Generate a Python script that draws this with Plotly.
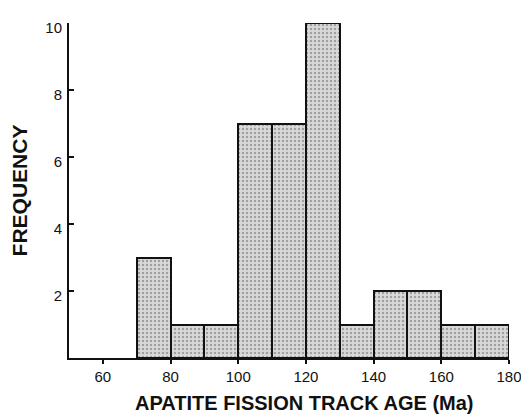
import plotly.graph_objects as go

bin_left = [70, 80, 90, 100, 110, 120, 130, 140, 150, 160, 170]
bin_width = 10
frequency = [3, 1, 1, 7, 7, 10, 1, 2, 2, 1, 1]
x_ticks = [60, 80, 100, 120, 140, 160, 180]
y_ticks = [2, 4, 6, 8, 10]
x_title = "APATITE FISSION TRACK AGE (Ma)"
y_title = "FREQUENCY"

fig = go.Figure()
fig.add_trace(go.Bar(
    x=[b + bin_width / 2 for b in bin_left],
    y=frequency,
    width=bin_width,
    marker=dict(
        color="#dadada",
        line=dict(color="#111111", width=2),
        pattern=dict(shape=".", fgcolor="#666666", size=4, solidity=0.3),
    ),
    showlegend=False,
))

font_family = "Liberation Sans, Arial, sans-serif"
fig.update_layout(
    width=521, height=414,
    margin=dict(l=69, r=12, t=23, b=56),
    paper_bgcolor="white", plot_bgcolor="white",
    bargap=0,
    font=dict(family=font_family, color="#111111", size=15),
    xaxis=dict(
        range=[50, 180], tickvals=x_ticks, ticks="outside", ticklen=4,
        tickwidth=1.5, tickcolor="#111111", automargin=False,
        ticklabeloverflow="allow",
        showline=True, linecolor="#111111", linewidth=2, showgrid=False,
        zeroline=False,
    ),
    yaxis=dict(
        range=[0, 10], tickvals=y_ticks, ticks="inside", ticklen=5,
        tickwidth=1.5, tickcolor="#111111", automargin=False,
        ticklabelshift=5, ticklabelstandoff=2,
        showline=True, linecolor="#111111", linewidth=2, showgrid=False,
        zeroline=False,
        title=dict(text="<b>" + y_title + "</b>",
                   font=dict(size=21, family=font_family), standoff=12),
    ),
    annotations=[dict(
        text="<b>" + x_title + "</b>", xref="paper", yref="paper",
        x=0.536, y=0, yshift=-45, xanchor="center", yanchor="middle",
        showarrow=False, font=dict(size=20, family=font_family, color="#111111"),
    )],
)

fig.write_html(
    "out.html",
    config={"displayModeBar": False},
    post_script="document.body.style.margin='0';document.body.style.overflow='hidden';",
)
